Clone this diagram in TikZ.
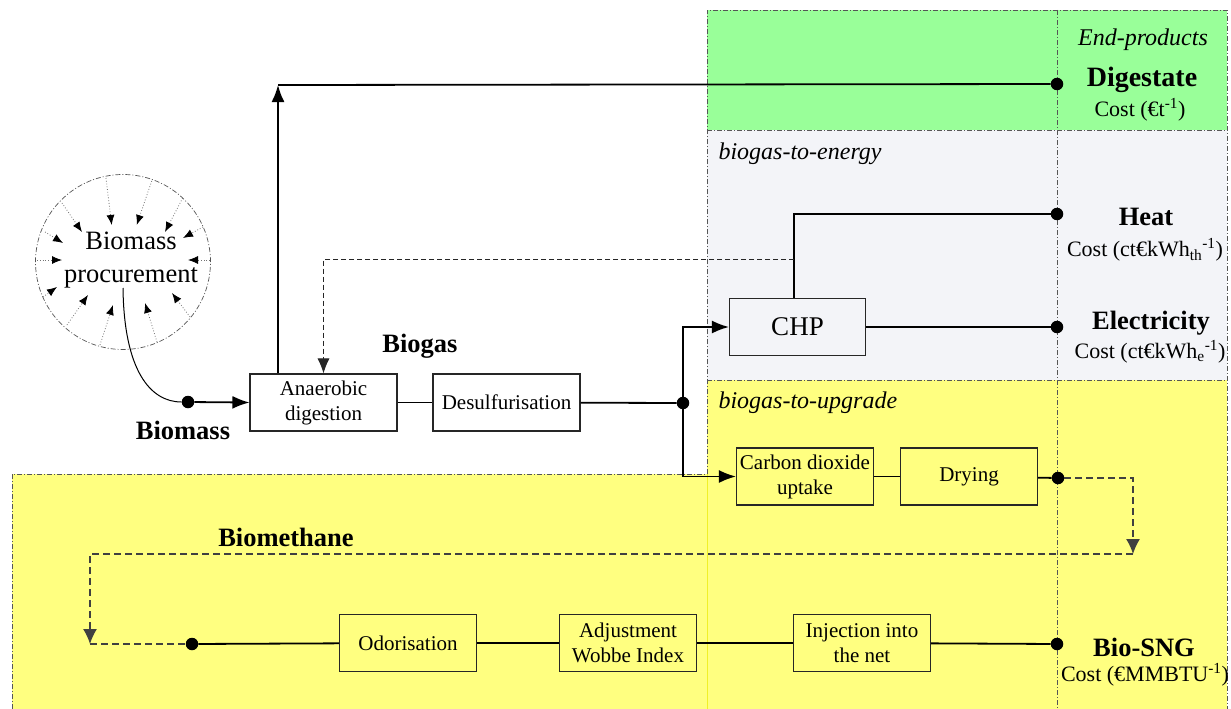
\documentclass[tikz,border=0pt]{standalone}
\usepackage{fontspec}
\setmainfont{Liberation Serif}
\newfontfamily\plantserif{Liberation Serif}
\usetikzlibrary{arrows.meta,calc}

\definecolor{prodgreen}{RGB}{153,255,153}
\definecolor{energygrey}{RGB}{243,244,248}
\definecolor{upgradeyellow}{RGB}{255,255,128}
\definecolor{framegrey}{RGB}{85,85,85}
\definecolor{seamyellow}{RGB}{240,240,40}

\tikzset{
  zone/.style={draw=framegrey, line width=0.7pt, dash pattern=on 5pt off 2pt on 1pt off 2pt},
  stage/.style={draw=black!85, line width=1.1pt, minimum width=137pt, minimum height=57pt,
                align=center, inner sep=1pt, font=\plantserif\fontsize{21}{25}\selectfont},
  flow/.style={line width=1.8pt},
  flowtip/.style={-{Latex[length=17pt,width=13pt]}},
  feed/.style={draw=black!85, line width=0.9pt, dash pattern=on 5pt off 3pt},
  feedtip/.style={-{Latex[length=15pt,width=12pt]}},
  biomethaneflow/.style={draw=black!75, line width=1.4pt, dash pattern=on 7pt off 4pt},
  loopdown/.style={-{Latex[length=15pt,width=14pt]}},
  hub/.style={circle, fill=black, minimum size=12.5pt, inner sep=0pt},
  product/.style={font=\plantserif\bfseries\fontsize{26.5}{30}\selectfont},
  cost/.style={font=\plantserif\fontsize{22}{26}\selectfont},
  zonelabel/.style={font=\plantserif\itshape\fontsize{24}{28}\selectfont},
  inflow/.style={draw=black!55, line width=0.8pt, dotted, -{Latex[length=10pt,width=8pt,black]}},
}

\begin{document}
\begin{tikzpicture}[x=1pt,y=-1pt]
\useasboundingbox (0,0) rectangle (1231,709);
\fill[white] (0,0) rectangle (1231,709);

% ---- background zones ----
\fill[prodgreen] (707,10) rectangle (1227,130);
\fill[energygrey] (707,130) rectangle (1227,380);
\fill[upgradeyellow] (707,380) rectangle (1227,709);
\fill[upgradeyellow] (12,474) rectangle (707,709);
\draw[seamyellow, line width=0.7pt] (707,474) -- (707,709);
\draw[zone] (707,474) -- (707,10) -- (1227,10) -- (1227,709);
\draw[zone] (707,130) -- (1227,130);
\draw[zone] (707,380) -- (1227,380);
\draw[zone] (12,709) -- (12,474) -- (707,474);
\draw[zone] (1057,10) -- (1057,709);

% ---- zone captions ----
\node[zonelabel] (endlabel) at (1143,40) {End-products};
\node[zonelabel, anchor=west] (energylabel) at (715,154) {biogas-to-energy};
\node[zonelabel, anchor=west] (upgradelabel) at (715,403) {biogas-to-upgrade};

% ---- biomass procurement ----
\node[circle, zone, minimum size=175pt, inner sep=0pt] (proc) at (123,262) {};
\node[align=center, font=\plantserif\fontsize{26.5}{33}\selectfont] (proclabel) at (131,260) {Biomass\\procurement};
\foreach \sx/\sy/\ex/\ey in {106/178/111.7/225, 151.7/181/136.7/225, 182.7/198/165/232,
    203/227/183/238, 210/260/188/260, 190/317/172/293, 157/342/145/303,
    100/345/113/305, 67/325/88/295, 43/297/57/287, 37/260/62/260,
    45/232/63/243, 62/203/82/232}
  \draw[inflow] (\sx,\sy) -- (\ex,\ey);

% ---- process stages ----
\node[stage, minimum width=147pt] (ad) at (323.5,402.5) {Anaerobic\\digestion};
\node[stage, minimum width=147pt] (ds) at (506.5,402.5) {Desulfurisation};
\node[stage, minimum width=136pt, font=\plantserif\fontsize{27}{30}\selectfont] (chp) at (797.5,327) {CHP};
\node[stage] (co2) at (805,476.5) {Carbon dioxide\\uptake};
\node[stage] (dry) at (969,476.5) {Drying};
\node[stage] (odor) at (408,643) {Odorisation};
\node[stage] (wobbe) at (628,643) {Adjustment\\Wobbe Index};
\node[stage] (inj) at (862,643) {Injection into\\the net};

% ---- junction points ----
\node[hub] (bmdot) at (188,402) {};
\node[hub] (bgdot) at (683,403) {};
\node[hub] (digdot) at (1057,84) {};
\node[hub] (heatdot) at (1057,214) {};
\node[hub] (elecdot) at (1057,327) {};
\node[hub] (drydot) at (1058,478) {};
\node[hub] (sngstart) at (192,644) {};
\node[hub] (sngdot) at (1057,644) {};

\coordinate (procout) at (123,288);
\coordinate (digcorner) at (278,85);
\coordinate (chpup) at (794,214);
\coordinate (fb) at (794,259);
\coordinate (bmA) at (1133,554);
\coordinate (bmB) at (90,644);

% ---- main flows ----
\draw[line width=1pt] (procout) .. controls (124,370) and (150,402) .. (bmdot);
\draw[flow,flowtip] (bmdot) -- (ad.west);
\draw[flow] (ad) -- (ds);
\draw[flow] (ds) -- (bgdot);
\draw[flow,flowtip] (ad.north -| digcorner) -- (digcorner);
\draw[flow] (digcorner) -- (digdot);
\draw[flow,flowtip] (bgdot) |- (chp.west);
\draw[flow,flowtip] (bgdot) |- (co2.west);
\draw[flow] (chp.north -| chpup) -- (chpup) -- (heatdot);
\draw[flow] (chp) -- (elecdot);
\draw[flow] (co2) -- (dry);
\draw[flow] (dry) -- (drydot);
\draw[flow] (sngstart) -- (odor);
\draw[flow] (odor) -- (wobbe);
\draw[flow] (wobbe) -- (inj);
\draw[flow] (inj) -- (sngdot);

% ---- heat returned to the digester ----
\draw[feed, feedtip] (fb) -| (ad.north);

% ---- biomethane loop ----
\draw[biomethaneflow, loopdown] (drydot) -| (bmA);
\draw[biomethaneflow, loopdown] (bmA) -| (bmB);
\draw[biomethaneflow] (bmB) -- (sngstart);

% ---- stream names ----
\node[product] (biomasslabel) at (183,430) {Biomass};
\node[product] (biogaslabel) at (420,346) {Biogas};
\node[product] (biomethanelabel) at (286,537) {Biomethane};

% ---- end products ----
\node[product, font=\plantserif\bfseries\fontsize{28}{32}\selectfont] (digestate) at (1142,80) {Digestate};
\node[cost] (digcost) at (1140,110) {Cost (€t\textsuperscript{-1})};
\node[product] (heat) at (1146,217) {Heat};
\node[cost] (heatcost) at (1145,250) {Cost (ct€kWh\textsubscript{th}\textsuperscript{-1})};
\node[product] (elec) at (1151,323) {Electricity};
\node[cost] (eleccost) at (1150,352) {Cost (ct€kWh\textsubscript{e}\textsuperscript{-1})};
\node[product] (sng) at (1144,647) {Bio-SNG};
\node[cost] (sngcost) at (1145,675) {Cost (€MMBTU\textsuperscript{-1})};
\end{tikzpicture}
\end{document}
